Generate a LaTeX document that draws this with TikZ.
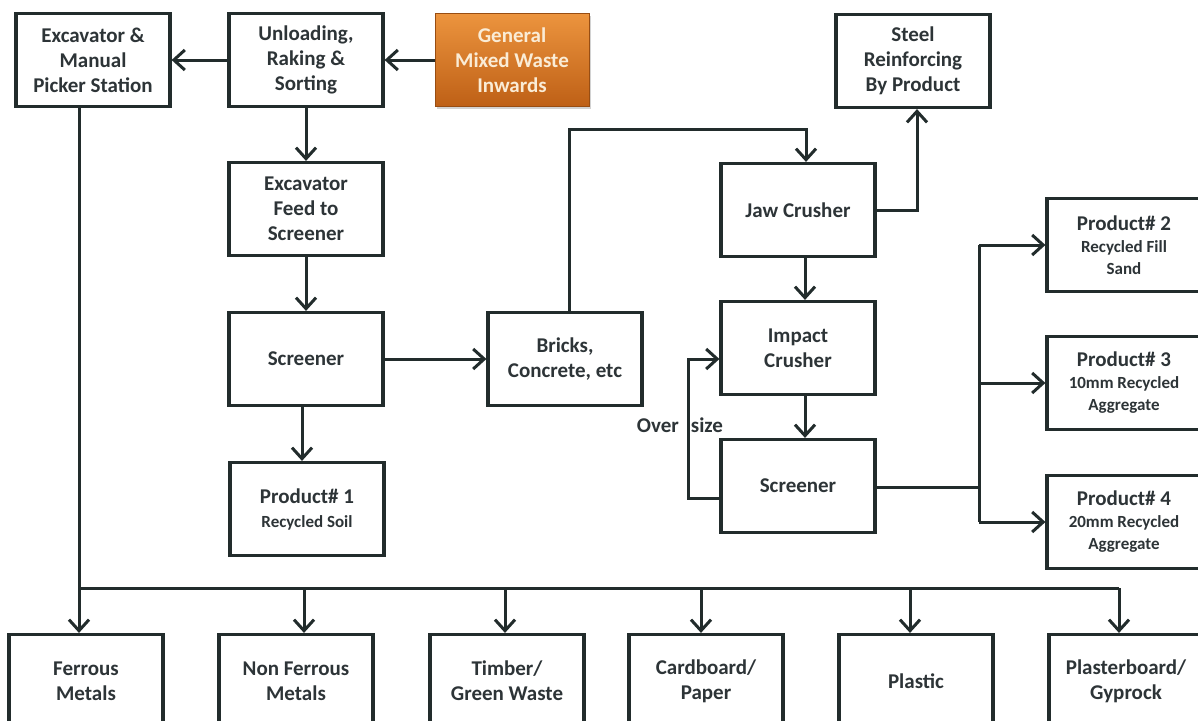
\documentclass[tikz,border=0pt]{standalone}
\usepackage{fontspec}
\setmainfont{Carlito}
\usetikzlibrary{arrows.meta,calc,shadows}
\definecolor{lc}{RGB}{34,44,44}
\definecolor{tx}{RGB}{45,52,55}
\definecolor{orT}{RGB}{236,148,62}
\definecolor{orB}{RGB}{190,96,22}
\definecolor{orTx}{RGB}{250,236,214}
\begin{document}
\begin{tikzpicture}[x=1pt,y=-1pt,
  box/.style={draw=lc, line width=3.2pt, minimum width=154pt, minimum height=93pt,
    align=center, font=\bfseries\fontsize{21}{25}\selectfont, text=tx, inner sep=0pt},
  orbox/.style={box, draw=orB!80!black, line width=0.6pt, top color=orT, bottom color=orB,
    text=orTx, drop shadow={opacity=0.35, shadow xshift=2pt, shadow yshift=-2pt}},
  arr/.style={draw=lc, line width=3pt, -{Straight Barb[length=11pt,width=20pt,line width=3pt]}},
  wire/.style={draw=lc, line width=3pt},
  lbl/.style={font=\bfseries\fontsize{21}{25}\selectfont, text=tx, inner sep=0pt}]
\useasboundingbox (0,0) rectangle (1198,720);
\clip (0,0) rectangle (1198,720);
\fill[white] (0,0) rectangle (1198,720);
\newcommand{\smalltxt}[1]{{\fontsize{17}{21}\selectfont #1}}

% top row
\node[box] (A) at (93,60) {Excavator \&\\Manual\\Picker Station};
\node[box] (B) at (306,60) {Unloading,\\Raking \&\\Sorting};
\node[orbox] (C) at (512,60) {General\\Mixed Waste\\Inwards};
\node[box] (D) at (913,61) {Steel\\Reinforcing\\By Product};

% left column
\node[box] (E) at (306,209) {Excavator\\Feed to\\Screener};
\node[box] (H) at (306,359) {Screener};
\node[box] (N) at (307,509) {Product\# 1\\[-1pt]\smalltxt{Recycled Soil}};
\node[box] (I) at (565,359) {Bricks,\\Concrete, etc};

% crushers
\node[box] (F) at (798,210) {Jaw Crusher};
\node[box] (J) at (798,348) {Impact\\Crusher};
\node[box] (L) at (798,486) {Screener};

% products right
\node[box] (G) at (1124,245) {Product\# 2\\[-3pt]\smalltxt{Recycled Fill}\\[-3pt]\smalltxt{Sand}};
\node[box] (K) at (1124,383) {Product\# 3\\[-3pt]\smalltxt{10mm Recycled}\\[-3pt]\smalltxt{Aggregate}};
\node[box] (M) at (1124,522) {Product\# 4\\[-3pt]\smalltxt{20mm Recycled}\\[-3pt]\smalltxt{Aggregate}};

% bottom row
\node[box] (P1) at (86,681) {Ferrous\\Metals};
\node[box] (P2) at (296,681) {Non Ferrous\\Metals};
\node[box] (P3) at (507,681) {Timber/\\Green Waste};
\node[box] (P4) at (706,681) {Cardboard/\\Paper};
\node[box] (P5) at (916,681) {Plastic};
\node[box] (P6) at (1126,681) {Plasterboard/\\Gyprock};

% label
\node[lbl] (os) at (680,425) {Over\hspace{12pt}size};

% connectors top
\draw[arr] (B.west) -- (A.east);
\draw[arr] (C.west) -- (B.east);
\draw[arr] (B.south) -- (E.north);
\draw[arr] (E.south) -- (H.north);
\draw[arr] (H.east) -- (I.west);
\draw[arr] ([xshift=-4pt]H.south) -- ([xshift=-5pt]N.north);

% bricks to jaw crusher
\coordinate (bj) at (806,129);
\draw[arr] ([xshift=4pt]I.north) |- (bj) -- (bj |- F.north);
% jaw crusher to steel
\coordinate (js) at (917,210);
\draw[arr] (F.east) -- (js) -- (js |- D.south);
% crusher chain
\draw[arr] ([xshift=7pt]F.south) -- ([xshift=7pt]J.north);
\draw[arr] ([xshift=7pt]J.south) -- ([xshift=7pt]L.north);
% over size loop
\coordinate (o1) at (688,498);
\coordinate (o2) at (688,359);
\draw[arr] (L.west |- o1) -- (o1) -- (o2) -- (J.west |- o2);

% screener to products
\coordinate (b1) at (979,245);
\coordinate (b2) at (979,383);
\coordinate (b3) at (979,522);
\coordinate (bm) at (979,487);
\draw[wire] (L.east |- bm) -- (bm);
\draw[wire] (b1) -- (b3);
\draw[arr] (b1) -- (G.west |- b1);
\draw[arr] (b2) -- (K.west |- b2);
\draw[arr] (b3) -- (M.west |- b3);

% sorting bus
\coordinate (s0) at (79,588);
\coordinate (s2) at (304,588);
\coordinate (s3) at (505,588);
\coordinate (s4) at (701,588);
\coordinate (s5) at (910,588);
\coordinate (s6) at (1119,588);
\draw[wire] (A.south -| s0) -- (s0) -- (s6);
\draw[arr] (s0) -- (s0 |- P1.north);
\draw[arr] (s2) -- (s2 |- P2.north);
\draw[arr] (s3) -- (s3 |- P3.north);
\draw[arr] (s4) -- (s4 |- P4.north);
\draw[arr] (s5) -- (s5 |- P5.north);
\draw[arr] (s6) -- (s6 |- P6.north);
\end{tikzpicture}
\end{document}
